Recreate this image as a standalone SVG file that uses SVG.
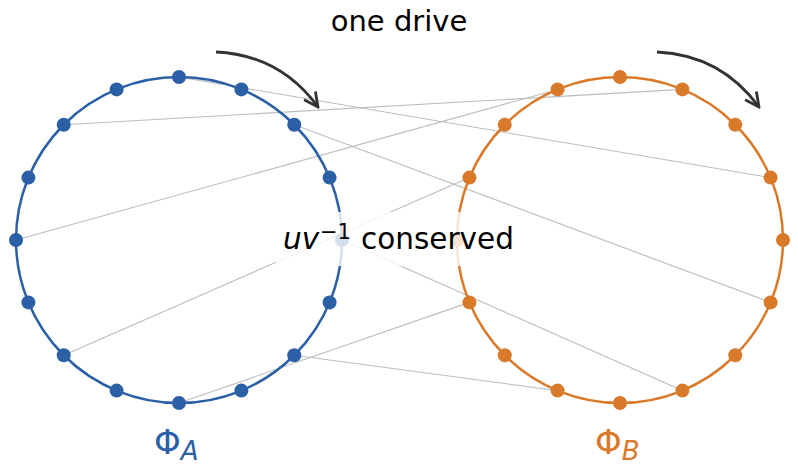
<svg xmlns="http://www.w3.org/2000/svg" width="798" height="468" viewBox="0 0 798 468">
<style>
.ring{fill:none;stroke-width:2.5}
.a{stroke:#2b5fa6}
.b{stroke:#d97a2b}
.da{fill:#2b5fa6}
.db{fill:#d97a2b}
.link{stroke:#bdbdbd;stroke-width:1.1;fill:none}
.drv{fill:none;stroke:#333333;stroke-width:2.8}
.t{font-family:"DejaVu Sans",sans-serif;fill:#000}
</style>
<defs>
<marker id="head" markerUnits="userSpaceOnUse" viewBox="0 0 18 18" refX="16" refY="9" markerWidth="18" markerHeight="18" orient="auto">
<path d="M2,2 L16,9 L2,16" fill="none" stroke="#333333" stroke-width="2.8" stroke-linejoin="miter"/>
</marker>
</defs>
<rect width="798" height="468" fill="#ffffff"/>
<g id="connectors">
<line class="link" x1="179" y1="77" x2="770.59" y2="177.62"/>
<line class="link" x1="294.26" y1="124.74" x2="770.59" y2="302.38"/>
<line class="link" x1="342" y1="240" x2="682.38" y2="390.59"/>
<line class="link" x1="294.26" y1="355.26" x2="557.62" y2="390.59"/>
<line class="link" x1="179" y1="403" x2="469.41" y2="302.38"/>
<line class="link" x1="63.74" y1="355.26" x2="469.41" y2="177.62"/>
<line class="link" x1="16" y1="240" x2="557.62" y2="89.41"/>
<line class="link" x1="63.74" y1="124.74" x2="682.38" y2="89.41"/>
</g>
<g id="phiA">
<circle class="ring a" cx="179" cy="240" r="163"/>
<g class="da">
<circle cx="179" cy="77" r="7"/><circle cx="241.38" cy="89.41" r="7"/><circle cx="294.26" cy="124.74" r="7"/><circle cx="329.59" cy="177.62" r="7"/>
<circle cx="342" cy="240" r="7"/><circle cx="329.59" cy="302.38" r="7"/><circle cx="294.26" cy="355.26" r="7"/><circle cx="241.38" cy="390.59" r="7"/>
<circle cx="179" cy="403" r="7"/><circle cx="116.62" cy="390.59" r="7"/><circle cx="63.74" cy="355.26" r="7"/><circle cx="28.41" cy="302.38" r="7"/>
<circle cx="16" cy="240" r="7"/><circle cx="28.41" cy="177.62" r="7"/><circle cx="63.74" cy="124.74" r="7"/><circle cx="116.62" cy="89.41" r="7"/>
</g>
<text class="t" x="154" y="454" style="fill:#2b5fa6"><tspan font-size="34">Φ</tspan><tspan font-size="26" font-style="italic" dy="6">A</tspan></text>
</g>
<g id="phiB">
<circle class="ring b" cx="620" cy="240" r="163"/>
<g class="db">
<circle cx="620" cy="77" r="7"/><circle cx="682.38" cy="89.41" r="7"/><circle cx="735.26" cy="124.74" r="7"/><circle cx="770.59" cy="177.62" r="7"/>
<circle cx="783" cy="240" r="7"/><circle cx="770.59" cy="302.38" r="7"/><circle cx="735.26" cy="355.26" r="7"/><circle cx="682.38" cy="390.59" r="7"/>
<circle cx="620" cy="403" r="7"/><circle cx="557.62" cy="390.59" r="7"/><circle cx="504.74" cy="355.26" r="7"/><circle cx="469.41" cy="302.38" r="7"/>
<circle cx="457" cy="240" r="7"/><circle cx="469.41" cy="177.62" r="7"/><circle cx="504.74" cy="124.74" r="7"/><circle cx="557.62" cy="89.41" r="7"/>
</g>
<text class="t" x="595" y="454" style="fill:#d97a2b"><tspan font-size="34">Φ</tspan><tspan font-size="26" font-style="italic" dy="6">B</tspan></text>
</g>
<g id="drive">
<path class="drv" d="M216,52 Q280,55 318,107" marker-end="url(#head)"/>
<path class="drv" d="M657,52 Q721,55 759,107" marker-end="url(#head)"/>
<text class="t" x="399" y="31" font-size="29" text-anchor="middle">one drive</text>
</g>
<g id="label">
<rect x="276" y="212" width="246" height="54" fill="#ffffff" fill-opacity="0.8"/>
<text class="t" y="249" font-size="29.5"><tspan x="283" font-style="italic">uv</tspan><tspan x="320" font-size="21" dy="-10">−1</tspan><tspan x="361" dy="10">conserved</tspan></text>
</g>
</svg>
